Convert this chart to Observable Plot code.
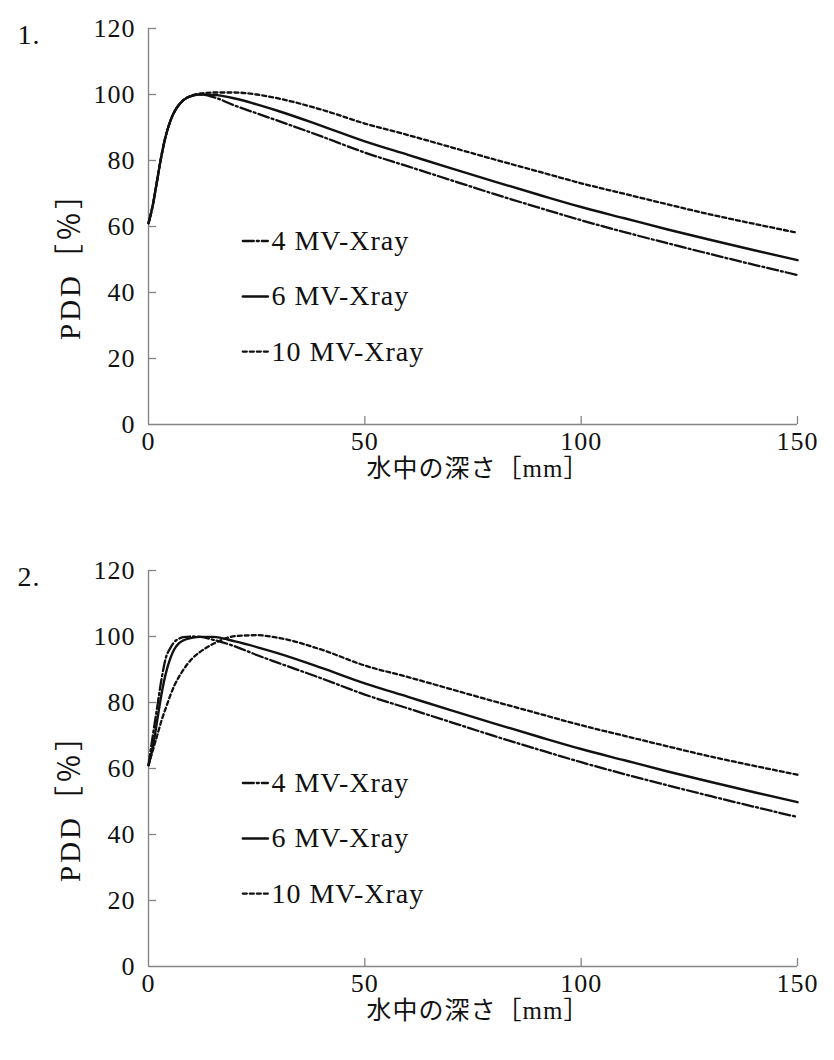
<!DOCTYPE html>
<html><head><meta charset="utf-8">
<script src="https://cdn.jsdelivr.net/npm/d3@7"></script>
<script src="https://cdn.jsdelivr.net/npm/@observablehq/plot@0.6"></script>
<style>
html,body{margin:0;padding:0;background:#fff;}
#c{width:834px;height:1060px;overflow:hidden;}
svg{display:block;}
#c svg, #c svg text{font-family:"Liberation Serif","DejaVu Serif","Times New Roman",serif,"Noto Sans CJK JP" !important;}
</style></head><body><div id="c"></div>
<script>
// depth in water [mm]
const depths = [0,1,2,3,4,5,6,7,8,10,12,15,20,25,30,40,50,60,70,80,90,100,110,120,130,140,150];

// Chart 1 : PDD [%]
const chart1_4MV  = [61,66.5,74,81.5,87.5,91.8,94.8,96.8,98.2,99.6,100,99.2,96.6,94.3,92,87.3,82.4,78.2,74,69.8,65.8,61.9,58.3,54.9,51.6,48.4,45.3];
const chart1_6MV  = [61,66.5,74,81.5,87.5,91.8,94.8,96.8,98.2,99.6,100,99.9,98.8,97,95,90.5,85.8,81.7,77.6,73.6,69.7,65.9,62.5,59.1,55.9,52.8,49.8];
const chart1_10MV = [61,66.5,74,81.5,87.5,91.8,94.8,96.8,98.2,99.7,100.3,100.6,100.6,100,98.8,95.4,91.2,87.7,84,80.3,76.7,73.1,69.9,66.7,63.6,60.8,58.1];

// Chart 2 : PDD [%]
const chart2_4MV  = [61,70,78.5,87,93.5,96.4,98.4,99.3,99.8,100,99.9,99,97,94.4,92,87.3,82.4,78.2,74,69.8,65.8,61.9,58.3,54.9,51.6,48.4,45.3];
const chart2_6MV  = [61,66.5,74.5,82.5,88.8,93.2,96.2,97.9,98.8,99.6,99.9,99.9,98.5,96.8,94.9,90.5,85.8,81.7,77.6,73.6,69.7,65.9,62.5,59.1,55.9,52.8,49.8];
const chart2_10MV = [61,65.5,70,74.5,78.3,82,85.2,87.7,89.8,93.2,95.4,97.8,100.1,100.4,99.6,96,91.2,87.7,84,80.3,76.7,73.1,69.9,66.7,63.6,60.8,58.1];

const seriesNames = ["4 MV-Xray", "6 MV-Xray", "10 MV-Xray"];
const xTicks = [0, 50, 100, 150];
const yTicks = [0, 20, 40, 60, 80, 100, 120];
const panelLabels = ["1.", "2."];
const xLabel = "水中の深さ［mm］";
const yLabel = "PDD［％］";

const dashes = ["11,3,2,3", null, "4,3"];
const GREY = "#858585";

function chart(seriesValues, panel, H, mt, mb) {
  const W = 834, ml = 148, mr = 37;
  const pw = W - ml - mr, ph = H - mt - mb;
  const marks = [
    Plot.ruleX([0], {stroke: GREY, strokeWidth: 1.4}),
    Plot.ruleY([0], {stroke: GREY, strokeWidth: 1.4}),
    Plot.tickY(yTicks.filter(v => v > 0), {y: d => d, stroke: GREY, strokeWidth: 1.3, insetRight: pw - 8}),
    Plot.tickX(xTicks.filter(v => v > 0), {x: d => d, stroke: GREY, strokeWidth: 1.3, insetTop: ph - 8}),
    Plot.axisX({ticks: xTicks, tickSize: 0, tickPadding: 7, label: null, fontSize: 26, tickFormat: d => d}),
    Plot.axisY({ticks: yTicks, tickSize: 0, tickPadding: 13, label: null, fontSize: 26, tickFormat: d => d}),
  ];
  seriesValues.forEach((vals, i) => {
    const data = depths.map((d, j) => ({d, v: vals[j]}));
    marks.push(Plot.line(data, {x: "d", y: "v", curve: "monotone-x", stroke: "#111",
      strokeWidth: i === 1 ? 2.4 : 2.3, strokeDasharray: dashes[i]}));
  });
  // legend (positioned in data space)
  const legY = [55.6, 38.8, 22.1];
  seriesNames.forEach((name, i) => {
    marks.push(Plot.line([{d: 21.8, v: legY[i]}, {d: 27.6, v: legY[i]}], {x: "d", y: "v", stroke: "#111",
      strokeWidth: i === 1 ? 2.4 : 2.3, strokeDasharray: dashes[i]}));
    marks.push(Plot.text([name], {x: 28.4, y: legY[i], text: d => d, textAnchor: "start",
      fontSize: 28, fill: "#111"}));
  });
  marks.push(Plot.text([xLabel], {frameAnchor: "bottom", textAnchor: "middle", lineAnchor: "middle", dx: 5, dy: 44,
    text: d => d, fontSize: 25, fill: "#111"}));
  marks.push(Plot.text([yLabel], {frameAnchor: "left", textAnchor: "middle", lineAnchor: "middle", rotate: -90,
    dx: -78, dy: 32, text: d => d, fontSize: 29, fill: "#111", className: "ylab"}));
  marks.push(Plot.text([panel], {frameAnchor: "top-left", textAnchor: "start", lineAnchor: "middle", dx: -131, dy: 7,
    text: d => d, fontSize: 28, fill: "#111"}));
  return Plot.plot({
    width: W, height: H, marginLeft: ml, marginRight: mr, marginTop: mt, marginBottom: mb,
    style: "font-family: 'Liberation Serif', 'DejaVu Serif', serif, 'Noto Sans CJK JP'; font-size: 26px; color: #111; background: #fff; overflow: visible;",
    x: {domain: [0, 150]},
    y: {domain: [0, 120]},
    marks
  });
}

const c = document.getElementById("c");
const svg1 = chart([chart1_4MV, chart1_6MV, chart1_10MV], panelLabels[0], 540, 28, 116);
const svg2 = chart([chart2_4MV, chart2_6MV, chart2_10MV], panelLabels[1], 520, 30, 94);
[svg1, svg2].forEach(s => {
  s.querySelectorAll("text").forEach(t => t.setAttribute("letter-spacing", "1"));
  s.querySelectorAll(".ylab text").forEach(t => t.setAttribute("letter-spacing", "3"));
});
c.appendChild(svg1);
c.appendChild(svg2);
</script>
</body></html>
